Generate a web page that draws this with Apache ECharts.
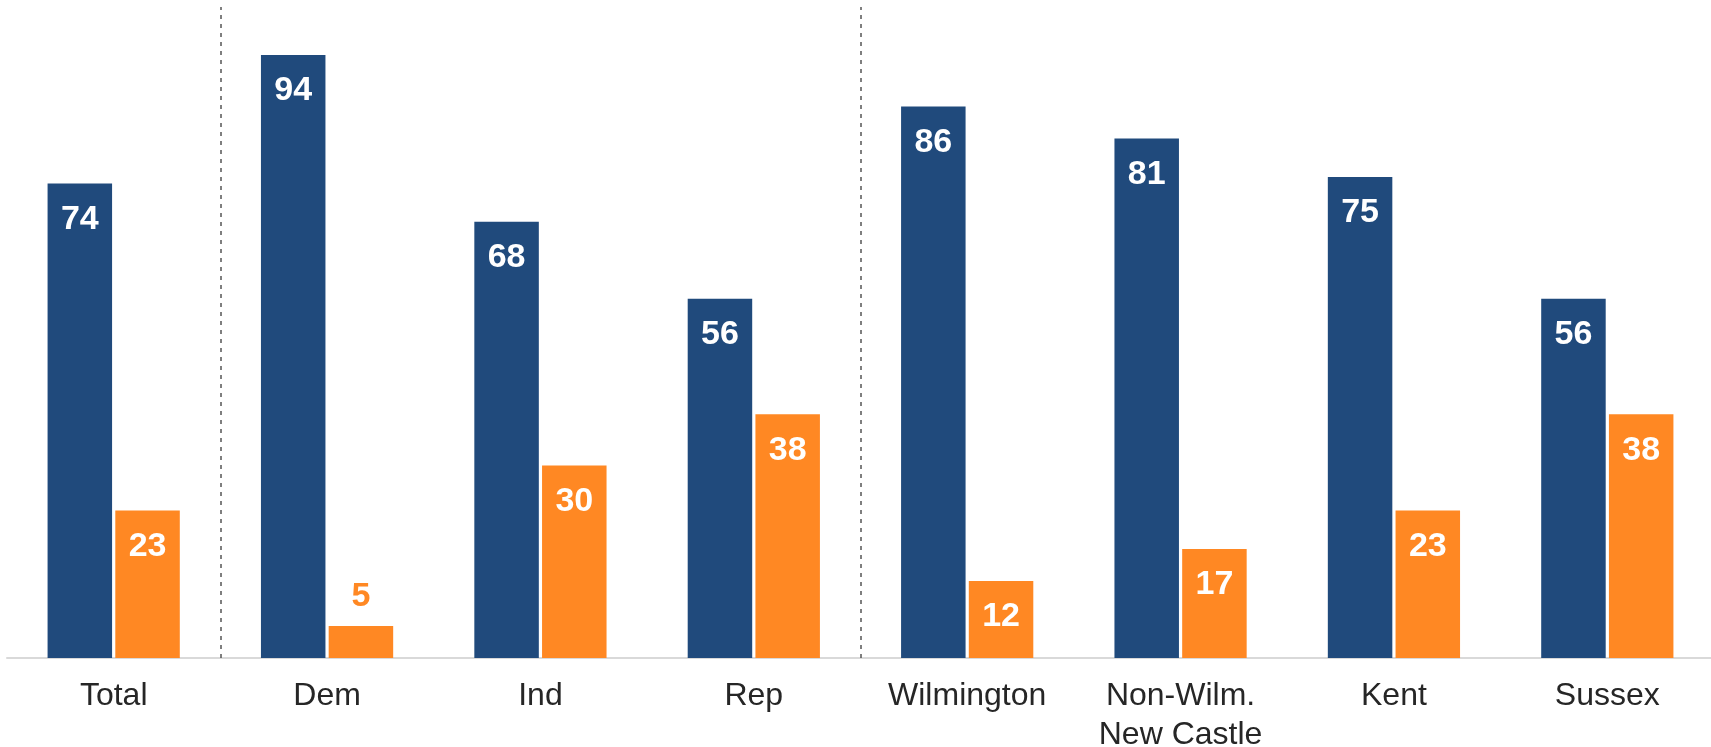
<!DOCTYPE html>
<html>
<head>
<meta charset="utf-8">
<script src="https://cdn.jsdelivr.net/npm/echarts@6/dist/echarts.min.js"></script>
<style>
html,body{margin:0;padding:0;background:#fff;}
#chart{width:1711px;height:747px;}
</style>
</head>
<body>
<div id="chart"></div>
<script>
const categories = ['Total', 'Dem', 'Ind', 'Rep', 'Wilmington', 'Non-Wilm.\nNew Castle', 'Kent', 'Sussex'];
const blueValues = [74, 94, 68, 56, 86, 81, 75, 56];
const orangeValues = [23, 5, 30, 38, 12, 17, 23, 38];
// group dividers sit between categories (after "Total" and after "Rep")
const dividerPositions = [0.5, 3.5];

const BLUE = '#204A7C';
const ORANGE = '#FF8823';
const FONT = '"Liberation Sans", Arial, sans-serif';

function orangeData() {
  return orangeValues.map(v => {
    if (v < 8) {
      return {
        value: v,
        label: { position: 'top', distance: 12, color: ORANGE }
      };
    }
    return v;
  });
}

const valueLabel = {
  show: true, position: 'insideTop', distance: 19,
  color: '#FFFFFF', fontSize: 34, fontWeight: 'bold', fontFamily: FONT
};

const chart = echarts.init(document.getElementById('chart'), null, { renderer: 'canvas' });
chart.setOption({
  animation: false,
  backgroundColor: '#fff',
  grid: {
    left: 7, top: 7, width: 1707, height: 651,
    containLabel: false, outerBoundsMode: 'none'
  },
  xAxis: [
    {
      type: 'category',
      data: categories,
      boundaryGap: true,
      axisLine: { show: true, lineStyle: { color: '#D9D9D9', width: 2 } },
      axisTick: { show: false },
      axisLabel: {
        color: '#262626', fontSize: 32, fontFamily: FONT, margin: 19,
        lineHeight: 39, interval: 0
      },
      splitLine: { show: false }
    },
    {
      type: 'value', min: -0.5, max: categories.length - 0.5, show: false,
      splitLine: { show: false }
    }
  ],
  yAxis: {
    type: 'value', min: 0, max: 101.5,
    show: false, splitLine: { show: false }
  },
  series: [
    {
      type: 'bar', data: blueValues, barWidth: 64.5, barGap: '5%',
      itemStyle: { color: BLUE },
      label: valueLabel
    },
    {
      type: 'bar', data: orangeData(), barWidth: 64.5, barGap: '5%',
      itemStyle: { color: ORANGE },
      label: valueLabel
    },
    {
      type: 'line', xAxisIndex: 1, data: [], silent: true,
      markLine: {
        silent: true, symbol: 'none',
        label: { show: false },
        lineStyle: { color: '#555555', width: 1.5, type: [4, 5] },
        data: dividerPositions.map(p => ({ xAxis: p }))
      }
    }
  ]
});
</script>
</body>
</html>
